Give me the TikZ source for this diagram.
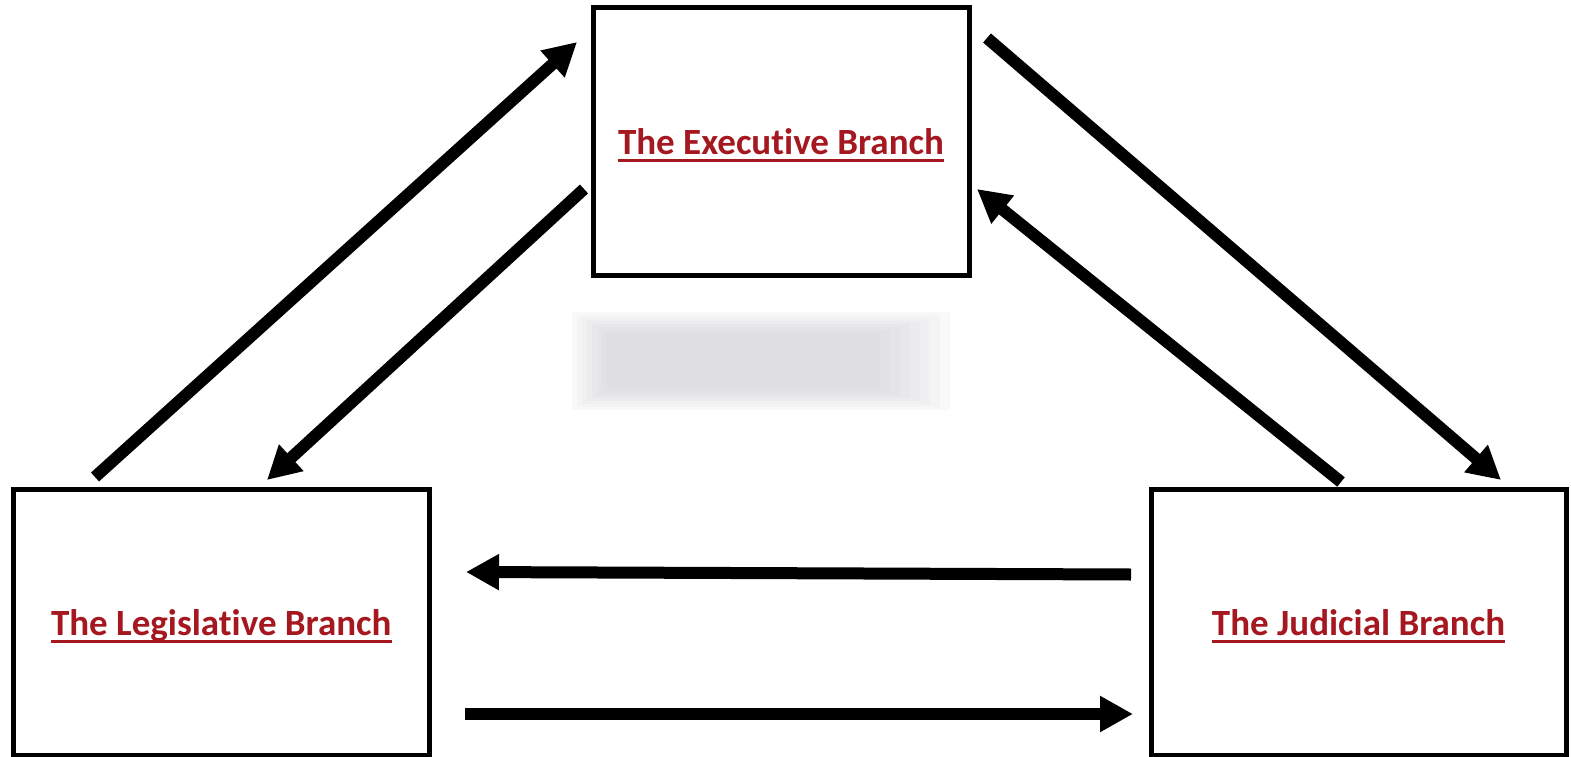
\documentclass[tikz,border=0pt]{standalone}
\usepackage{fontspec}
\setmainfont{Carlito}[Ligatures={NoCommon}]
\usetikzlibrary{arrows.meta}
\definecolor{branchred}{RGB}{165,24,32}
\definecolor{blurtone}{RGB}{200,198,205}
\tikzset{
  branchbox/.style={draw=black, line width=5pt, fill=white, inner sep=0pt, rectangle},
  branchlabel/.style={text=branchred, font=\fontsize{37}{40}\selectfont\bfseries, inner sep=0pt, anchor=base},
  uline/.style={draw=branchred, line width=3pt},
  bigarrow/.style={draw=black, line width=12pt, -{Triangle[length=33pt,width=34pt]}},
  blurlayer/.style={fill=blurtone, fill opacity=0.09, draw=none},
}
\begin{document}
\begin{tikzpicture}[x=1pt,y=-1pt]
\useasboundingbox (0,0) rectangle (1571,757);
\fill[white] (0,0) rectangle (1571,757);
% blurred label
\foreach \i in {0,...,7}{
  \fill[blurlayer] (572+5*\i,312+3*\i) rectangle (950-10*\i,410-3*\i);
}
% boxes
\node[branchbox, minimum width=376pt, minimum height=268pt] (exec) at (781,141.5) {};
\node[branchbox, minimum width=416.5pt, minimum height=266pt] (leg) at (221.25,622) {};
\node[branchbox, minimum width=415pt, minimum height=266pt] (jud) at (1358.5,622) {};
% labels
\node[branchlabel] (execl) at ([yshift=-12.5pt]exec.center) {The Executive Branch};
\node[branchlabel] (legl) at ([yshift=-13pt]leg.center) {The Legislative Branch};
\node[branchlabel] (judl) at ([yshift=-13pt]jud.center) {The Judicial Branch};
\draw[uline] ([yshift=-6.5pt]execl.base west) -- ([yshift=-6.5pt]execl.base east);
\draw[uline] ([yshift=-6.5pt]legl.base west) -- ([yshift=-6.5pt]legl.base east);
\draw[uline] ([yshift=-6.5pt]judl.base west) -- ([yshift=-6.5pt]judl.base east);
% arrow end points
\coordinate (a1s) at (95,477);
\coordinate (a1e) at (577,42);
\coordinate (a2s) at (584,189);
\coordinate (a2e) at (267,480);
\coordinate (a3s) at (987,38);
\coordinate (a3e) at (1501,480);
\coordinate (a4s) at (1341,482);
\coordinate (a4e) at (977,189);
\coordinate (a5s) at (1131,574.5);
\coordinate (a5e) at (466,572);
\coordinate (a6s) at (465,714);
\coordinate (a6e) at (1133,714);
% arrows
\draw[bigarrow] (a1s) -- (a1e);
\draw[bigarrow] (a2s) -- (a2e);
\draw[bigarrow] (a3s) -- (a3e);
\draw[bigarrow] (a4s) -- (a4e);
\draw[bigarrow] (a5s) -- (a5e);
\draw[bigarrow] (a6s) -- (a6e);
\end{tikzpicture}
\end{document}
